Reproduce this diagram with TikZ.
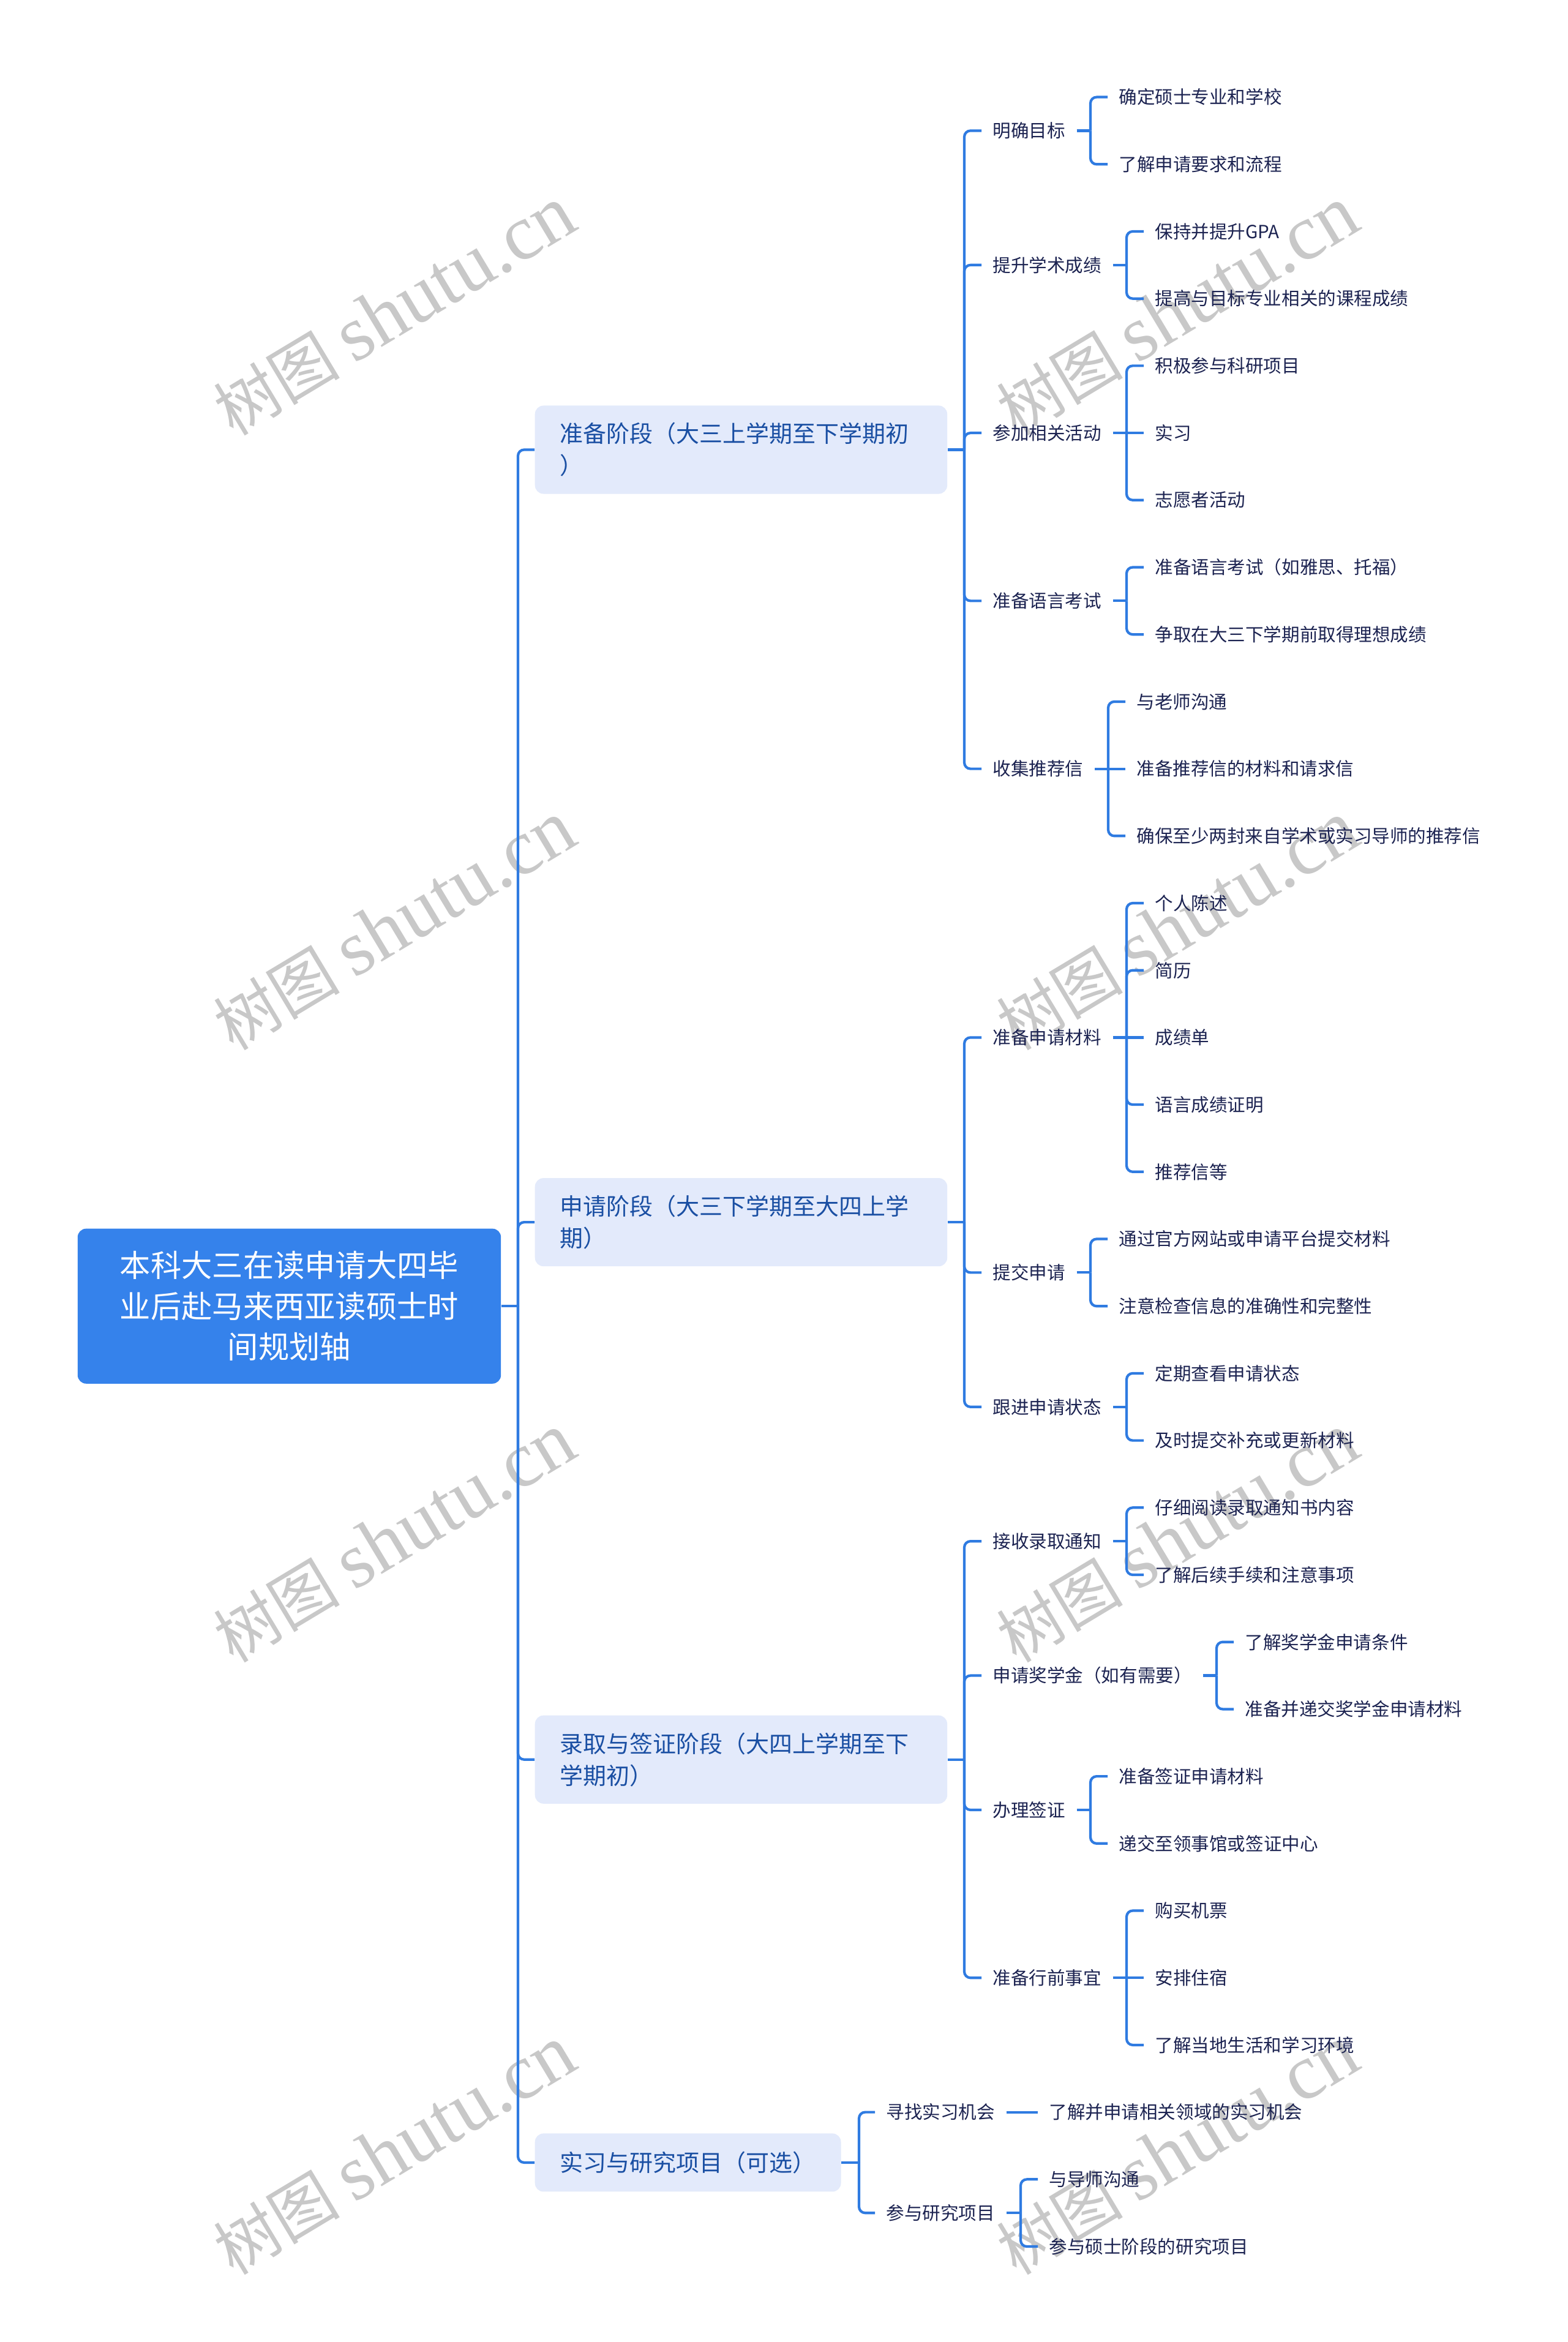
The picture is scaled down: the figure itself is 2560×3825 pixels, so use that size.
\documentclass[tikz,border=0pt]{standalone}
\usepackage{fontspec}
\setmainfont{Noto Sans CJK SC}
\newfontfamily\wmserif{Liberation Serif}
\definecolor{linec}{HTML}{2F7BE1}
\definecolor{rootfill}{HTML}{3582EB}
\definecolor{stagefill}{HTML}{E3EAFB}
\definecolor{stagetext}{HTML}{1A4FA3}
\definecolor{leaftext}{HTML}{1C2351}
\definecolor{wmgray}{HTML}{C8C8C8}
\tikzset{
  conn/.style={draw=linec, line width=0.042cm, rounded corners=0.1cm},
  leaf/.style={anchor=west, inner xsep=0.18cm, inner ysep=0.05cm, text=leaftext, font=\fontsize{8.4}{10}\selectfont},
  stage/.style={anchor=west, fill=stagefill, rounded corners=0.14cm, inner xsep=0.41cm, inner ysep=0.1cm, text=stagetext, align=left, font=\fontsize{10.8}{14.8}\selectfont},
  rootbox/.style={fill=rootfill, rounded corners=0.14cm, text=white, align=center, text width=6.0cm, inner xsep=0.455cm, minimum width=6.91cm, minimum height=2.53cm, font=\fontsize{14.3}{18.9}\selectfont},
  wm/.style={text=wmgray, rotate=31, font=\fontsize{29.5}{30}\selectfont}
}
\newcommand\kid[2]{\draw[conn] (#1) |- (#2.west);}
\newcommand\wmtext{树图 {\wmserif\fontsize{36.5}{37}\selectfont shutu.cn}}
\begin{document}
\begin{tikzpicture}[x=0.01cm,y=-0.01cm]
\useasboundingbox (0,0) rectangle (2560,3825);
\fill[white] (0,0) rectangle (2560,3825);

% watermarks
\foreach \wy [count=\i] in {508,1512,2512,3512} {
  \node[wm] (wl\i) at (644,\wy) {\wmtext};
  \node[wm] (wr\i) at (1923,\wy) {\wmtext};
}

% root
\node[rootbox] (root) at (472.5,2133.2) {本科大三在读申请大四毕\\业后赴马来西亚读硕士时\\间规划轴};

% stages
\node[stage, text width=5.91cm, minimum height=1.44cm] (s1) at (873,734.5) {准备阶段（大三上学期至下学期初\\）};
\node[stage, text width=5.91cm, minimum height=1.44cm] (s2) at (873,1996.1) {申请阶段（大三下学期至大四上学\\期）};
\node[stage, text width=5.91cm, minimum height=1.44cm] (s3) at (873,2873.7) {录取与签证阶段（大四上学期至下\\学期初）};
\node[stage, minimum height=0.95cm] (s4) at (873,3531.9) {实习与研究项目（可选）};

% level 2
\node[leaf] (m1) at (1603,213.45) {明确目标};
\node[leaf] (m2) at (1603,432.85) {提升学术成绩};
\node[leaf] (m3) at (1603,707.1) {参加相关活动};
\node[leaf] (m4) at (1603,981.35) {准备语言考试};
\node[leaf] (m5) at (1603,1255.6) {收集推荐信};
\node[leaf] (n1) at (1603,1694.4) {准备申请材料};
\node[leaf] (n2) at (1603,2078.35) {提交申请};
\node[leaf] (n3) at (1603,2297.75) {跟进申请状态};
\node[leaf] (p1) at (1603,2517.15) {接收录取通知};
\node[leaf] (p2) at (1603,2736.55) {申请奖学金（如有需要）};
\node[leaf] (p3) at (1603,2955.95) {办理签证};
\node[leaf] (p4) at (1603,3230.2) {准备行前事宜};
\node[leaf] (q1) at (1429,3449.6) {寻找实习机会};
\node[leaf] (q2) at (1429,3614.15) {参与研究项目};

% leaves
\node[leaf] (a0) at (1809,158.6) {确定硕士专业和学校};
\node[leaf] (a1) at (1809,268.3) {了解申请要求和流程};
\node[leaf] (a2) at (1868,378.0) {保持并提升GPA};
\node[leaf] (a3) at (1868,487.7) {提高与目标专业相关的课程成绩};
\node[leaf] (a4) at (1868,597.4) {积极参与科研项目};
\node[leaf] (a5) at (1868,707.1) {实习};
\node[leaf] (a6) at (1868,816.8) {志愿者活动};
\node[leaf] (a7) at (1868,926.5) {准备语言考试（如雅思、托福）};
\node[leaf] (a8) at (1868,1036.2) {争取在大三下学期前取得理想成绩};
\node[leaf] (a9) at (1838,1145.9) {与老师沟通};
\node[leaf] (a10) at (1838,1255.6) {准备推荐信的材料和请求信};
\node[leaf] (a11) at (1838,1365.3) {确保至少两封来自学术或实习导师的推荐信};
\node[leaf] (a12) at (1868,1475.0) {个人陈述};
\node[leaf] (a13) at (1868,1584.7) {简历};
\node[leaf] (a14) at (1868,1694.4) {成绩单};
\node[leaf] (a15) at (1868,1804.1) {语言成绩证明};
\node[leaf] (a16) at (1868,1913.8) {推荐信等};
\node[leaf] (a17) at (1809,2023.5) {通过官方网站或申请平台提交材料};
\node[leaf] (a18) at (1809,2133.2) {注意检查信息的准确性和完整性};
\node[leaf] (a19) at (1868,2242.9) {定期查看申请状态};
\node[leaf] (a20) at (1868,2352.6) {及时提交补充或更新材料};
\node[leaf] (a21) at (1868,2462.3) {仔细阅读录取通知书内容};
\node[leaf] (a22) at (1868,2572.0) {了解后续手续和注意事项};
\node[leaf] (a23) at (2015,2681.7) {了解奖学金申请条件};
\node[leaf] (a24) at (2015,2791.4) {准备并递交奖学金申请材料};
\node[leaf] (a25) at (1809,2901.1) {准备签证申请材料};
\node[leaf] (a26) at (1809,3010.8) {递交至领事馆或签证中心};
\node[leaf] (a27) at (1868,3120.5) {购买机票};
\node[leaf] (a28) at (1868,3230.2) {安排住宿};
\node[leaf] (a29) at (1868,3339.9) {了解当地生活和学习环境};
\node[leaf] (a30) at (1695,3449.6) {了解并申请相关领域的实习机会};
\node[leaf] (a31) at (1695,3559.3) {与导师沟通};
\node[leaf] (a32) at (1695,3669.0) {参与硕士阶段的研究项目};

% bracket points
\coordinate (b0) at (846,2133.2);
\coordinate (bs1) at (1575,734.5);
\coordinate (bs2) at (1575,1996.1);
\coordinate (bs3) at (1575,2873.7);
\coordinate (bs4) at (1403,3531.9);
\coordinate (bm1) at (1781,213.45);
\coordinate (bm2) at (1840,432.85);
\coordinate (bm3) at (1840,707.1);
\coordinate (bm4) at (1840,981.35);
\coordinate (bm5) at (1810,1255.6);
\coordinate (bn1) at (1840,1694.4);
\coordinate (bn2) at (1781,2078.35);
\coordinate (bn3) at (1840,2297.75);
\coordinate (bp1) at (1840,2517.15);
\coordinate (bp2) at (1987,2736.55);
\coordinate (bp3) at (1781,2955.95);
\coordinate (bp4) at (1840,3230.2);
\coordinate (bq2) at (1667,3614.15);

% root -> stages
\draw[conn] (root.east) -- (b0);
\kid{b0}{s1}\kid{b0}{s2}\kid{b0}{s3}\kid{b0}{s4}

% stage 1
\draw[conn] (s1.east) -- (bs1);
\kid{bs1}{m1}\kid{bs1}{m2}\kid{bs1}{m3}\kid{bs1}{m4}\kid{bs1}{m5}
\draw[conn] (m1.east) -- (bm1); \kid{bm1}{a0}\kid{bm1}{a1}
\draw[conn] (m2.east) -- (bm2); \kid{bm2}{a2}\kid{bm2}{a3}
\draw[conn] (m3.east) -- (bm3); \kid{bm3}{a4}\kid{bm3}{a6}\draw[conn] (bm3) -- (a5.west);
\draw[conn] (m4.east) -- (bm4); \kid{bm4}{a7}\kid{bm4}{a8}
\draw[conn] (m5.east) -- (bm5); \kid{bm5}{a9}\kid{bm5}{a11}\draw[conn] (bm5) -- (a10.west);

% stage 2
\draw[conn] (s2.east) -- (bs2);
\kid{bs2}{n1}\kid{bs2}{n2}\kid{bs2}{n3}
\draw[conn] (n1.east) -- (bn1); \kid{bn1}{a12}\kid{bn1}{a13}\kid{bn1}{a15}\kid{bn1}{a16}\draw[conn] (bn1) -- (a14.west);
\draw[conn] (n2.east) -- (bn2); \kid{bn2}{a17}\kid{bn2}{a18}
\draw[conn] (n3.east) -- (bn3); \kid{bn3}{a19}\kid{bn3}{a20}

% stage 3
\draw[conn] (s3.east) -- (bs3);
\kid{bs3}{p1}\kid{bs3}{p2}\kid{bs3}{p3}\kid{bs3}{p4}
\draw[conn] (p1.east) -- (bp1); \kid{bp1}{a21}\kid{bp1}{a22}
\draw[conn] (p2.east) -- (bp2); \kid{bp2}{a23}\kid{bp2}{a24}
\draw[conn] (p3.east) -- (bp3); \kid{bp3}{a25}\kid{bp3}{a26}
\draw[conn] (p4.east) -- (bp4); \kid{bp4}{a27}\kid{bp4}{a29}\draw[conn] (bp4) -- (a28.west);

% stage 4
\draw[conn] (s4.east) -- (bs4);
\kid{bs4}{q1}\kid{bs4}{q2}
\draw[conn] (q1.east) -- (a30.west);
\draw[conn] (q2.east) -- (bq2); \kid{bq2}{a31}\kid{bq2}{a32}
\end{tikzpicture}
\end{document}
